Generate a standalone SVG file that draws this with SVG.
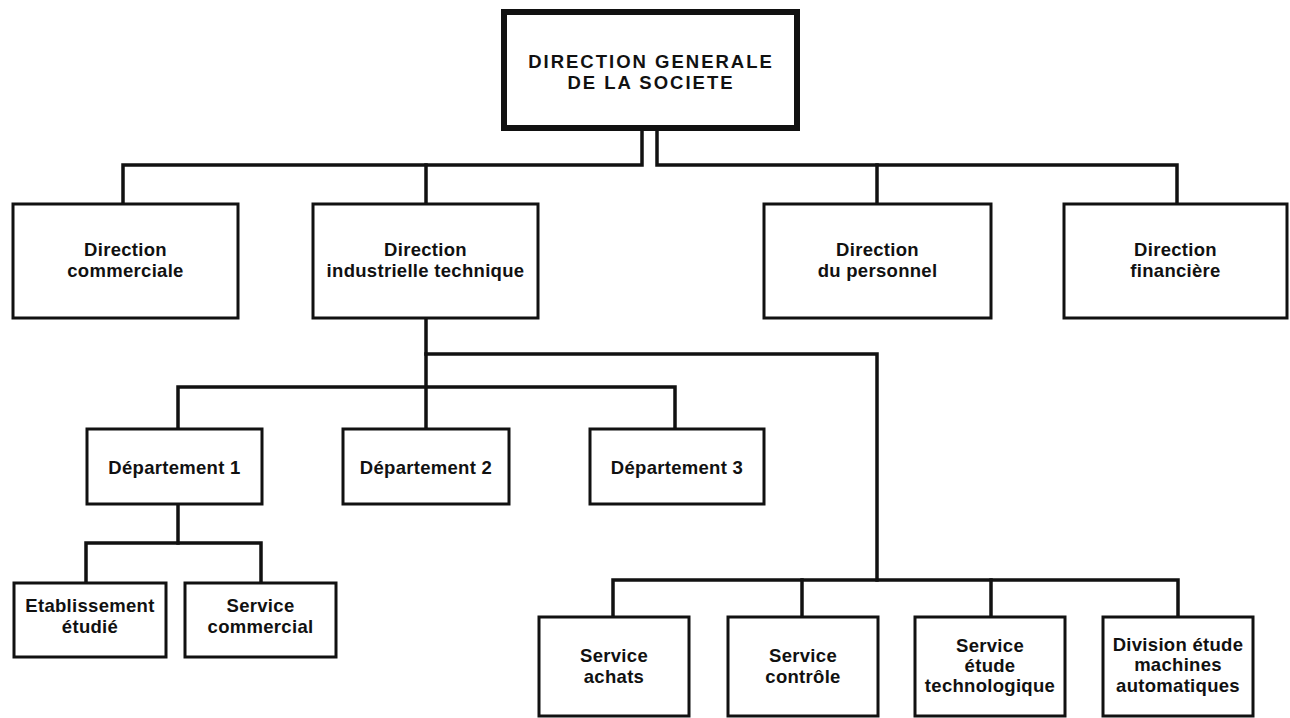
<svg xmlns="http://www.w3.org/2000/svg" width="1290" height="718" viewBox="0 0 1290 718">
  <style>
    .box { fill: #ffffff; stroke: #111111; stroke-width: 3; }
    .head { fill: #ffffff; stroke: #111111; stroke-width: 6; }
    .wire { fill: none; stroke: #111111; stroke-width: 3.5; stroke-linejoin: miter; stroke-linecap: square; }
    text { font-family: "Liberation Sans", Arial, sans-serif; font-weight: bold; font-size: 18.5px; fill: #111111; text-anchor: middle; letter-spacing: 0.3px; }
    .caps { letter-spacing: 2px; }
  </style>
  <rect width="1290" height="718" fill="#ffffff"/>

  <!-- connectors -->
  <g id="connectors">
    <!-- top level: double stem splitting to the four directions -->
    <path class="wire" d="M642,128 V165 H123 V204"/>
    <path class="wire" d="M657,128 V165 H1177 V204"/>
    <path class="wire" d="M426,165 V204"/>
    <path class="wire" d="M877,165 V204"/>
    <!-- direction industrielle technique branches -->
    <path class="wire" d="M426,318 V429"/>
    <path class="wire" d="M178,429 V387 H675 V429"/>
    <path class="wire" d="M426,354 H877 V580"/>
    <!-- departement 1 branches -->
    <path class="wire" d="M178,504 V543"/>
    <path class="wire" d="M86,583 V543 H261 V583"/>
    <!-- services row -->
    <path class="wire" d="M613,617 V580 H1178 V617"/>
    <path class="wire" d="M802,580 V617"/>
    <path class="wire" d="M991,580 V617"/>
  </g>

  <g id="direction-generale">
    <rect class="head" x="504" y="12" width="293" height="116"/>
    <text class="caps" x="651" y="68">DIRECTION GENERALE</text>
    <text class="caps" x="651" y="89">DE LA SOCIETE</text>
  </g>

  <g id="direction-commerciale">
    <rect class="box" x="13" y="204" width="225" height="114"/>
    <text x="125.5" y="256">Direction</text>
    <text x="125.5" y="277">commerciale</text>
  </g>

  <g id="direction-industrielle">
    <rect class="box" x="313" y="204" width="225" height="114"/>
    <text x="425.5" y="256">Direction</text>
    <text x="425.5" y="277">industrielle technique</text>
  </g>

  <g id="direction-personnel">
    <rect class="box" x="764" y="204" width="227" height="114"/>
    <text x="877.5" y="256">Direction</text>
    <text x="877.5" y="277">du personnel</text>
  </g>

  <g id="direction-financiere">
    <rect class="box" x="1064" y="204" width="223" height="114"/>
    <text x="1175.5" y="256">Direction</text>
    <text x="1175.5" y="277">financière</text>
  </g>

  <g id="departement-1">
    <rect class="box" x="87" y="429" width="175" height="75"/>
    <text x="174.5" y="474">Département 1</text>
  </g>

  <g id="departement-2">
    <rect class="box" x="343" y="429" width="166" height="75"/>
    <text x="426" y="474">Département 2</text>
  </g>

  <g id="departement-3">
    <rect class="box" x="590" y="429" width="174" height="75"/>
    <text x="677" y="474">Département 3</text>
  </g>

  <g id="etablissement-etudie">
    <rect class="box" x="14" y="583" width="152" height="74"/>
    <text x="90" y="612">Etablissement</text>
    <text x="90" y="633">étudié</text>
  </g>

  <g id="service-commercial">
    <rect class="box" x="185" y="583" width="151" height="74"/>
    <text x="260.5" y="612">Service</text>
    <text x="260.5" y="633">commercial</text>
  </g>

  <g id="service-achats">
    <rect class="box" x="539" y="617" width="150" height="99"/>
    <text x="614" y="662">Service</text>
    <text x="614" y="683">achats</text>
  </g>

  <g id="service-controle">
    <rect class="box" x="728" y="617" width="150" height="99"/>
    <text x="803" y="662">Service</text>
    <text x="803" y="683">contrôle</text>
  </g>

  <g id="service-etude-technologique">
    <rect class="box" x="915" y="617" width="150" height="99"/>
    <text x="990" y="652">Service</text>
    <text x="990" y="672">étude</text>
    <text x="990" y="692">technologique</text>
  </g>

  <g id="division-etude-machines">
    <rect class="box" x="1103" y="617" width="150" height="99"/>
    <text x="1178" y="651">Division étude</text>
    <text x="1178" y="671">machines</text>
    <text x="1178" y="692">automatiques</text>
  </g>
</svg>
